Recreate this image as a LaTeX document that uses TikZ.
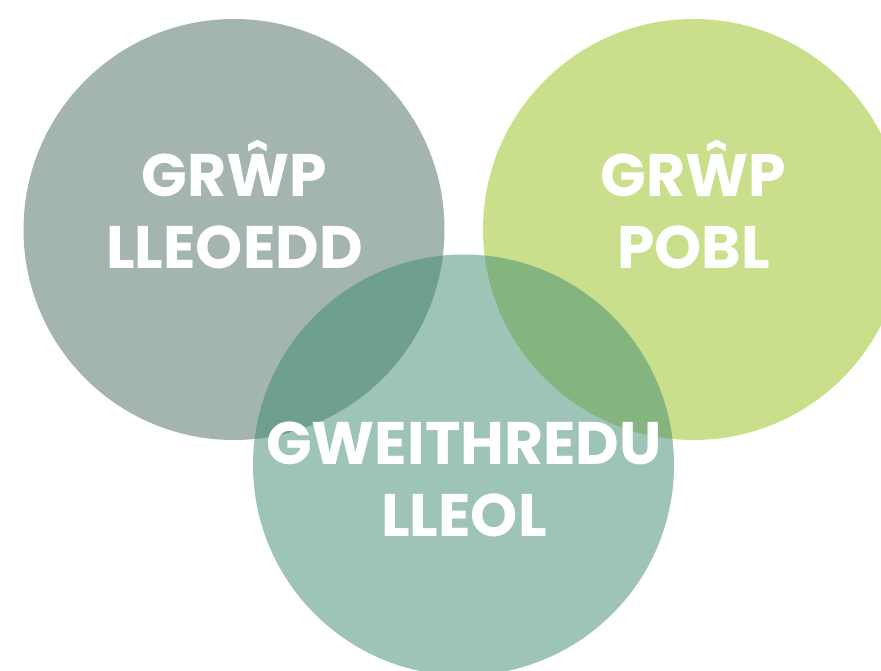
\documentclass[tikz,border=0pt]{standalone}
\usepackage{fontspec}
\setmainfont{Poppins}[BoldFont={Poppins Bold}]
\definecolor{cA}{HTML}{A3B5AD}
\definecolor{cB}{HTML}{C9DF8C}
\definecolor{cC}{HTML}{9EC4B7}
\definecolor{cAC}{HTML}{6F9F8E}
\definecolor{cBC}{HTML}{84B57F}
\tikzset{circ/.style={circle,minimum size=421pt,inner sep=0pt,draw=none},
lab/.style={text=white,font=\bfseries\fontsize{60pt}{72pt}\selectfont,align=center,inner sep=0pt}}
\begin{document}
\begin{tikzpicture}[x=1pt,y=-1pt]
\useasboundingbox (0,0) rectangle (881,671);
\clip (0,0) rectangle (881,671);
\node[circ,fill=cA] (a) at (234,229.5) {};
\node[circ,fill=cB] (b) at (693.5,229.5) {};
\node[circ,fill=cC] (c) at (463.5,465) {};
\begin{scope}
\clip (234,229.5) circle (210.5pt);
\fill[cAC] (463.5,465) circle (210.5pt);
\end{scope}
\begin{scope}
\clip (693.5,229.5) circle (210.5pt);
\fill[cBC] (463.5,465) circle (210.5pt);
\end{scope}
\node[lab] (ta) at (234.5,205) {GRŴP\\LLEOEDD};
\node[lab] (tb) at (693.5,205) {GRŴP\\POBL};
\node[lab] (tc) at (464,479.5) {GWEITHREDU\\LLEOL};
\end{tikzpicture}
\end{document}
